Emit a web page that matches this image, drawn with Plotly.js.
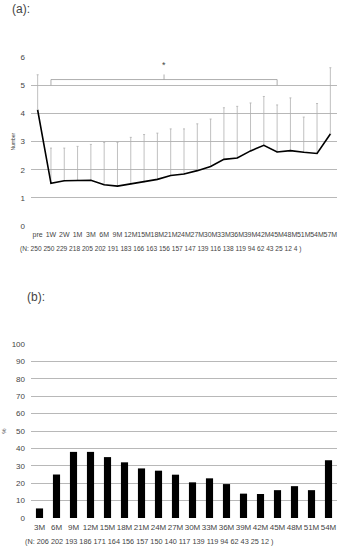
<!DOCTYPE html>
<html>
<head>
<meta charset="utf-8">
<script src="https://cdn.plot.ly/plotly-3.0.1.min.js"></script>
<style>
  html, body { margin: 0; padding: 0; background: #fff; }
  #chart { width: 344px; height: 550px; }
</style>
</head>
<body>
<div id="chart"></div>
<script>
// (a) mean number over follow-up, with upper error bar
var timeLabels = ['pre', '1W', '2W', '1M', '3M', '6M', '9M', '12M', '15M', '18M', '21M', '24M',
  '27M', '30M', '33M', '36M', '39M', '42M', '45M', '48M', '51M', '54M', '57M'];
var meanNumber = [4.12, 1.52, 1.61, 1.63, 1.63, 1.47, 1.42, 1.5, 1.57, 1.66, 1.8, 1.85,
  1.97, 2.12, 2.37, 2.42, 2.67, 2.87, 2.63, 2.68, 2.62, 2.58, 3.27];
var upperNumber = [5.37, 2.77, 2.77, 2.83, 2.9, 2.97, 2.97, 3.15, 3.25, 3.3, 3.45, 3.45,
  3.63, 3.8, 4.2, 4.25, 4.37, 4.6, 4.3, 4.55, 3.87, 4.35, 5.62];
var countsA = [250, 250, 229, 218, 205, 202, 191, 183, 166, 163, 156, 157, 147, 139, 116, 138, 119, 94, 62, 43, 25, 12, 4];

// (b) percentage per time point
var monthLabels = ['3M', '6M', '9M', '12M', '15M', '18M', '21M', '24M', '27M', '30M', '33M', '36M',
  '39M', '42M', '45M', '48M', '51M', '54M'];
var percentB = [5.5, 25, 38, 38, 35, 32, 28.5, 27.2, 24.9, 20.5, 22.8, 19.5, 14, 13.8, 16, 18.3, 16, 33.2];
var countsB = [206, 202, 193, 186, 171, 164, 156, 157, 150, 140, 117, 139, 119, 94, 62, 43, 25, 12];

var font = 'Liberation Sans, Arial, sans-serif';
var textColor = '#444';
var gridColor = '#b8b8b8';

var lineTrace = {
  x: timeLabels,
  y: meanNumber,
  type: 'scatter',
  mode: 'lines',
  line: { color: '#000', width: 1.6 },
  error_y: {
    type: 'data',
    symmetric: false,
    array: upperNumber.map(function (u, i) { return u - meanNumber[i]; }),
    arrayminus: meanNumber.map(function () { return 0; }),
    color: '#b0b0b0',
    thickness: 0.8,
    width: 1
  },
  xaxis: 'x',
  yaxis: 'y'
};

var barTrace = {
  x: monthLabels,
  y: percentB,
  type: 'bar',
  marker: { color: '#000' },
  xaxis: 'x2',
  yaxis: 'y2'
};

var bracketColor = '#999';
var layout = {
  width: 344,
  height: 550,
  showlegend: false,
  paper_bgcolor: '#fff',
  plot_bgcolor: '#fff',
  font: { family: font, color: textColor },
  margin: { l: 31, r: 7, t: 57, b: 32 },
  bargap: 0.58,
  xaxis: {
    type: 'category',
    domain: [0, 1],
    range: [-0.5, 22.5],
    showgrid: false,
    showline: false,
    ticks: '',
    tickangle: 0,
    ticklabelstandoff: 3,
    tickfont: { size: 7, color: textColor },
    anchor: 'y'
  },
  yaxis: {
    domain: [0.633, 1],
    range: [0, 6],
    dtick: 1,
    gridcolor: gridColor,
    gridwidth: 1,
    zeroline: true,
    zerolinecolor: 'rgba(0,0,0,0)',
    ticks: '',
    ticklabelstandoff: 5,
    tickfont: { size: 8, color: textColor },
    title: { text: 'Number', font: { size: 5, color: textColor }, standoff: 4 },
    anchor: 'x'
  },
  xaxis2: {
    type: 'category',
    domain: [0, 1],
    range: [-0.5, 17.5],
    showgrid: false,
    showline: false,
    ticks: '',
    tickangle: 0,
    ticklabelstandoff: 3,
    tickfont: { size: 8, color: textColor },
    anchor: 'y2'
  },
  yaxis2: {
    domain: [0, 0.3774],
    range: [0, 100],
    dtick: 10,
    gridcolor: gridColor,
    gridwidth: 1,
    zeroline: true,
    zerolinecolor: 'rgba(0,0,0,0)',
    ticks: '',
    ticklabelstandoff: 5,
    tickfont: { size: 8, color: textColor },
    title: { text: '%', font: { size: 6, color: textColor }, standoff: 4 },
    anchor: 'x2'
  },
  shapes: [
    // significance bracket from 1W to 45M
    { type: 'line', xref: 'x', yref: 'y', x0: 1, x1: 18, y0: 5.2, y1: 5.2, line: { color: bracketColor, width: 0.8 } },
    { type: 'line', xref: 'x', yref: 'y', x0: 1, x1: 1, y0: 5.2, y1: 5.0, line: { color: bracketColor, width: 0.8 } },
    { type: 'line', xref: 'x', yref: 'y', x0: 18, x1: 18, y0: 5.2, y1: 5.0, line: { color: bracketColor, width: 0.8 } },
    { type: 'line', xref: 'x', yref: 'y', x0: 9.5, x1: 9.5, y0: 5.2, y1: 5.38, line: { color: bracketColor, width: 0.8 } }
  ],
  annotations: [
    {
      xref: 'paper', yref: 'paper', x: -0.07, y: 1.105, xanchor: 'left', yanchor: 'middle',
      text: '(a):', showarrow: false, font: { size: 12, color: textColor }
    },
    {
      xref: 'x', yref: 'y', x: 9.5, y: 5.72, text: '*', showarrow: false,
      font: { size: 9, color: textColor }
    },
    {
      xref: 'paper', yref: 'paper', x: -0.043, y: 0.583, xanchor: 'left', yanchor: 'middle',
      text: '(N: ' + countsA.join(' ') + ' )', showarrow: false,
      font: { size: 6.6, color: textColor }
    },
    {
      xref: 'paper', yref: 'paper', x: -0.02, y: 0.48, xanchor: 'left', yanchor: 'middle',
      text: '(b):', showarrow: false, font: { size: 12, color: textColor }
    },
    {
      xref: 'paper', yref: 'paper', x: -0.027, y: -0.05, xanchor: 'left', yanchor: 'middle',
      text: '(N: ' + countsB.join(' ') + ' )', showarrow: false,
      font: { size: 7.3, color: textColor }
    }
  ]
};

Plotly.newPlot('chart', [lineTrace, barTrace], layout, { displayModeBar: false, staticPlot: true });
</script>
</body>
</html>
